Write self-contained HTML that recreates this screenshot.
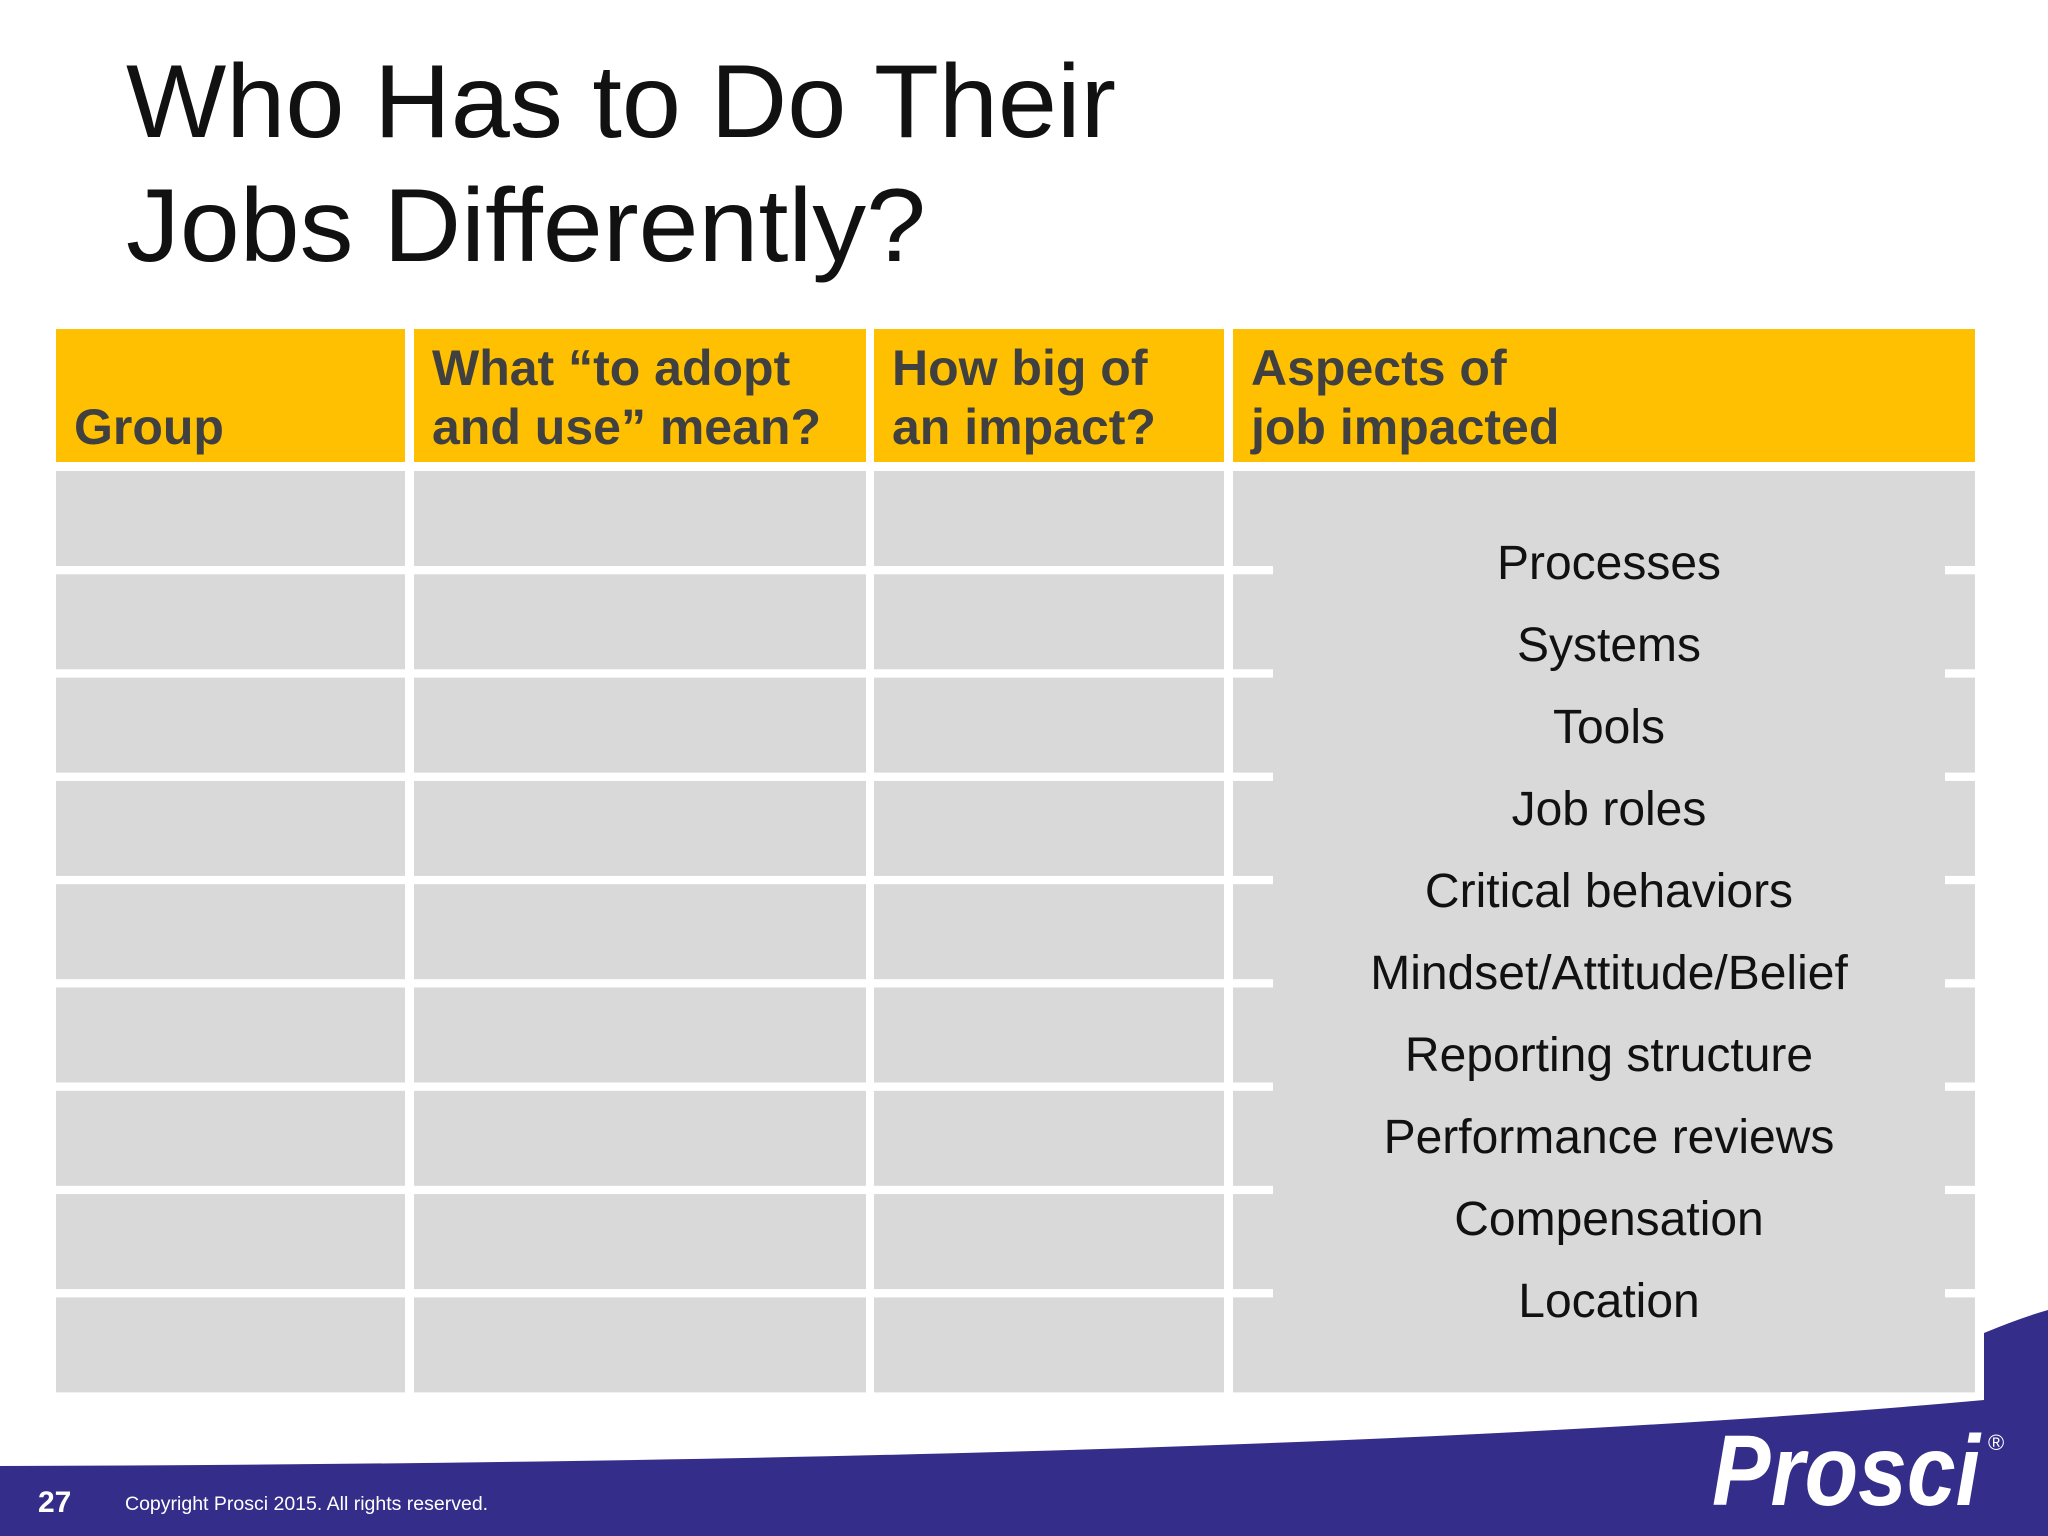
<!DOCTYPE html>
<html><head><meta charset="utf-8"><style>
html,body{margin:0;padding:0;background:#fff}
svg{display:block}
</style></head><body>
<svg id="slide" width="2048" height="1536" viewBox="0 0 2048 1536" xmlns="http://www.w3.org/2000/svg">
<rect width="2048" height="1536" fill="#fff"/>
<g font-family="'Liberation Sans', sans-serif" font-size="104" fill="#111">
<text x="126" y="137" textLength="990" lengthAdjust="spacingAndGlyphs">Who Has to Do Their</text>
<text x="126" y="261" textLength="800" lengthAdjust="spacingAndGlyphs">Jobs Differently?</text>
</g>
<g id="table"></g>
<path d="M0,1466 Q1300,1462 1984,1400 L1984,1333 Q2020,1318 2048,1310 L2048,1536 L0,1536 Z" fill="#352d8a"/>
<text x="38" y="1512" font-family="'Liberation Sans', sans-serif" font-weight="bold" font-size="30" fill="#fff">27</text>
<text x="125" y="1510" font-family="'Liberation Sans', sans-serif" font-size="19.5" fill="#fff">Copyright Prosci 2015. All rights reserved.</text>
<text x="1712" y="1505" font-family="'Liberation Sans', sans-serif" font-weight="bold" font-style="italic" font-size="100" fill="#fff" textLength="268" lengthAdjust="spacingAndGlyphs">Prosci</text>
<text x="1988" y="1450" font-family="'Liberation Sans', sans-serif" font-size="22" fill="#fff">®</text>
</svg>
<script>
const headerLines = [["", "Group"], ["What \u201cto adopt", "and use\u201d mean?"], ["How big of", "an impact?"], ["Aspects of", "job impacted"]];
const aspects = ["Processes","Systems","Tools","Job roles","Critical behaviors","Mindset/Attitude/Belief","Reporting structure","Performance reviews","Compensation","Location"];
const rowCount = 9;
const NS = "http://www.w3.org/2000/svg";
const t = document.getElementById('table');
const colX = [56, 414, 874, 1233];
const colW = [349, 452, 350, 742];
function mk(tag, attrs){const e=document.createElementNS(NS,tag);for(const k in attrs)e.setAttribute(k,attrs[k]);t.appendChild(e);return e;}
const rowTop = 471, rowH = 95, pitch = 103.3;
for (let c=0;c<4;c++){
  const h = mk('rect',{x:colX[c],y:329,width:colW[c],height:133,fill:'#fec000'});
  
  
  headerLines[c].forEach((ln,i)=>{
    if(!ln) return;
    const tx = mk('text',{x:colX[c]+18,y:i?444:385,'font-family':"'Liberation Sans', sans-serif",'font-weight':'bold','font-size':50,fill:'#404040'});
    tx.textContent = ln;
    
    
  });
}
for (let r=0;r<rowCount;r++){
  for (let c=0;c<3;c++){
    const e = mk('rect',{x:colX[c],y:rowTop+r*pitch,width:colW[c],height:rowH,fill:'#d9d9d9'});
    
    
  }
}
const big = mk('rect',{x:colX[3],y:rowTop,width:colW[3],height:(rowCount-1)*pitch+rowH,fill:'#d9d9d9'});


for (let r=0;r<rowCount-1;r++){
  const y = rowTop+r*pitch+rowH;
  const a = mk('rect',{x:colX[3],y:y,width:40,height:pitch-rowH,fill:'#fff'});
  
  
  const b = mk('rect',{x:1945,y:y,width:30,height:pitch-rowH,fill:'#fff'});
  
  
}
aspects.forEach((s,i)=>{
  const tx = mk('text',{x:1609,y:579+i*82,'text-anchor':'middle','font-family':"'Liberation Sans', sans-serif",'font-size':48,fill:'#111'});
  tx.textContent = s;
  
  
});
</script>
</body></html>
